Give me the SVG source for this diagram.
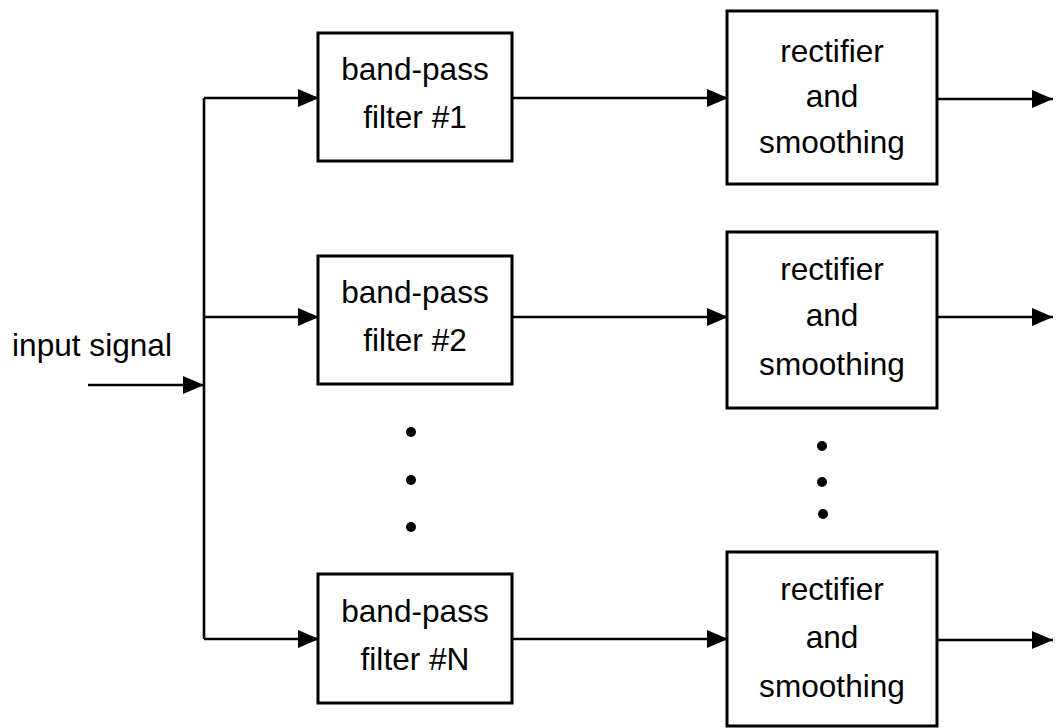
<svg xmlns="http://www.w3.org/2000/svg" width="1060" height="728" viewBox="0 0 1060 728">
  <style>
    .box { fill: none; stroke: #000; stroke-width: 3; }
    .wire { fill: none; stroke: #000; stroke-width: 2.6; }
    .lbl { font-family: "Liberation Sans", Arial, sans-serif; font-size: 31.6px; fill: #000; text-anchor: middle; }
    .dot { fill: #000; }
  </style>
  <defs>
    <marker id="arrow" markerUnits="userSpaceOnUse" markerWidth="21" markerHeight="18" refX="21" refY="9" orient="auto">
      <path d="M0,0 L21,9 L0,18 z" fill="#000"/>
    </marker>
  </defs>
  <rect width="1060" height="728" fill="#fff"/>

  <!-- connectors -->
  <g id="connectors">
    <!-- input feed into distribution trunk -->
    <path class="wire" d="M88,385 H204" marker-end="url(#arrow)"/>
    <path class="wire" d="M204,98 V639"/>
    <!-- trunk to filters -->
    <path class="wire" d="M204,98 H319" marker-end="url(#arrow)"/>
    <path class="wire" d="M204,317 H319" marker-end="url(#arrow)"/>
    <path class="wire" d="M204,639 H319" marker-end="url(#arrow)"/>
    <!-- filters to rectifiers -->
    <path class="wire" d="M512,98 H728" marker-end="url(#arrow)"/>
    <path class="wire" d="M512,317 H728" marker-end="url(#arrow)"/>
    <path class="wire" d="M512,639 H728" marker-end="url(#arrow)"/>
    <!-- outputs -->
    <path class="wire" d="M937,99 H1053" marker-end="url(#arrow)"/>
    <path class="wire" d="M937,317 H1053" marker-end="url(#arrow)"/>
    <path class="wire" d="M937,640 H1053" marker-end="url(#arrow)"/>
  </g>

  <text class="lbl" x="92" y="356">input signal</text>

  <g id="bpf1">
    <rect class="box" x="318" y="33" width="194" height="128"/>
    <text class="lbl" x="415" y="80">band-pass</text>
    <text class="lbl" x="415" y="128">filter #1</text>
  </g>
  <g id="bpf2">
    <rect class="box" x="318" y="256" width="194" height="128"/>
    <text class="lbl" x="415" y="303">band-pass</text>
    <text class="lbl" x="415" y="351">filter #2</text>
  </g>
  <g id="bpfN">
    <rect class="box" x="318" y="574" width="194" height="129"/>
    <text class="lbl" x="415" y="622">band-pass</text>
    <text class="lbl" x="415" y="670">filter #N</text>
  </g>

  <g id="rect1">
    <rect class="box" x="727" y="11" width="210" height="173"/>
    <text class="lbl" x="832" y="62">rectifier</text>
    <text class="lbl" x="832" y="107">and</text>
    <text class="lbl" x="832" y="153">smoothing</text>
  </g>
  <g id="rect2">
    <rect class="box" x="727" y="232" width="210" height="176"/>
    <text class="lbl" x="832" y="280">rectifier</text>
    <text class="lbl" x="832" y="326">and</text>
    <text class="lbl" x="832" y="375">smoothing</text>
  </g>
  <g id="rectN">
    <rect class="box" x="727" y="552" width="210" height="174"/>
    <text class="lbl" x="832" y="600">rectifier</text>
    <text class="lbl" x="832" y="648">and</text>
    <text class="lbl" x="832" y="697">smoothing</text>
  </g>

  <!-- ellipsis dots between channels -->
  <g id="ellipsis">
    <circle class="dot" cx="411" cy="432" r="5"/>
    <circle class="dot" cx="411" cy="480" r="5"/>
    <circle class="dot" cx="411" cy="527" r="5"/>
    <circle class="dot" cx="822" cy="446" r="5"/>
    <circle class="dot" cx="822" cy="482" r="5"/>
    <circle class="dot" cx="823" cy="514" r="5"/>
  </g>
</svg>
